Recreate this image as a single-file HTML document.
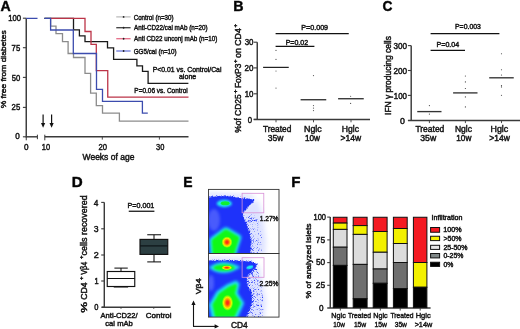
<!DOCTYPE html><html><head><meta charset="utf-8"><style>html,body{margin:0;padding:0;background:#fff;overflow:hidden}svg{display:block;filter:blur(0.35px)} text{font-family:"Liberation Sans", sans-serif;stroke:#151515;stroke-width:0.45px}</style></head><body>
<svg width="520" height="329" viewBox="0 0 520 329">
<rect width="520" height="329" fill="#fff"/>
<text x="0.55" y="10.60" font-size="14.4" font-weight="bold" fill="#000" stroke-width="0.3" textLength="10.22" lengthAdjust="spacingAndGlyphs">A</text>
<text x="233.14" y="10.60" font-size="14.4" font-weight="bold" fill="#000" stroke-width="0.3" textLength="10.30" lengthAdjust="spacingAndGlyphs">B</text>
<text x="382.44" y="10.60" font-size="14.4" font-weight="bold" fill="#000" stroke-width="0.3" textLength="9.94" lengthAdjust="spacingAndGlyphs">C</text>
<text x="71.68" y="186.80" font-size="14.4" font-weight="bold" fill="#000" stroke-width="0.3" textLength="10.96" lengthAdjust="spacingAndGlyphs">D</text>
<text x="183.27" y="186.90" font-size="14.4" font-weight="bold" fill="#000" stroke-width="0.3" textLength="9.27" lengthAdjust="spacingAndGlyphs">E</text>
<text x="291.20" y="186.90" font-size="14.4" font-weight="bold" fill="#000" stroke-width="0.3" textLength="9.16" lengthAdjust="spacingAndGlyphs">F</text>
<line x1="26.25" y1="18.20" x2="26.25" y2="137.50" stroke="#3a3a3a" stroke-width="1.45"/>
<line x1="22.90" y1="18.20" x2="26.25" y2="18.20" stroke="#3a3a3a" stroke-width="1.1"/>
<line x1="22.90" y1="47.70" x2="26.25" y2="47.70" stroke="#3a3a3a" stroke-width="1.1"/>
<line x1="22.90" y1="77.40" x2="26.25" y2="77.40" stroke="#3a3a3a" stroke-width="1.1"/>
<line x1="22.90" y1="107.40" x2="26.25" y2="107.40" stroke="#3a3a3a" stroke-width="1.1"/>
<line x1="22.90" y1="136.80" x2="26.25" y2="136.80" stroke="#3a3a3a" stroke-width="1.1"/>
<text x="8.32" y="20.80" font-size="8.3" font-weight="normal" fill="#151515" textLength="12.84" lengthAdjust="spacingAndGlyphs">100</text>
<text x="11.61" y="50.90" font-size="8.3" font-weight="normal" fill="#151515" textLength="8.57" lengthAdjust="spacingAndGlyphs">75</text>
<text x="11.70" y="80.60" font-size="8.3" font-weight="normal" fill="#151515" textLength="8.45" lengthAdjust="spacingAndGlyphs">50</text>
<text x="11.62" y="109.80" font-size="8.3" font-weight="normal" fill="#151515" textLength="8.56" lengthAdjust="spacingAndGlyphs">25</text>
<text x="15.28" y="139.40" font-size="8.3" font-weight="normal" fill="#151515" textLength="4.54" lengthAdjust="spacingAndGlyphs">0</text>
<line x1="26.25" y1="136.80" x2="37.40" y2="136.80" stroke="#3a3a3a" stroke-width="1.45"/>
<line x1="37.40" y1="134.70" x2="37.40" y2="139.20" stroke="#3a3a3a" stroke-width="1.0"/>
<line x1="44.80" y1="136.80" x2="188.50" y2="136.80" stroke="#3a3a3a" stroke-width="1.45"/>
<line x1="44.80" y1="134.70" x2="44.80" y2="140.30" stroke="#3a3a3a" stroke-width="1.0"/>
<line x1="26.25" y1="136.80" x2="26.25" y2="140.30" stroke="#3a3a3a" stroke-width="1.0"/>
<line x1="102.30" y1="136.80" x2="102.30" y2="139.60" stroke="#3a3a3a" stroke-width="0.9"/>
<line x1="159.40" y1="136.80" x2="159.40" y2="139.60" stroke="#3a3a3a" stroke-width="0.9"/>
<text x="23.98" y="149.90" font-size="8.3" font-weight="normal" fill="#151515" textLength="4.54" lengthAdjust="spacingAndGlyphs">0</text>
<text x="41.84" y="149.90" font-size="8.3" font-weight="normal" fill="#151515" textLength="8.26" lengthAdjust="spacingAndGlyphs">10</text>
<text x="98.42" y="149.90" font-size="8.3" font-weight="normal" fill="#151515" textLength="8.48" lengthAdjust="spacingAndGlyphs">20</text>
<text x="156.02" y="149.90" font-size="8.3" font-weight="normal" fill="#151515" textLength="8.28" lengthAdjust="spacingAndGlyphs">30</text>
<text x="82.56" y="160.20" font-size="8.4" font-weight="normal" fill="#151515" textLength="51.82" lengthAdjust="spacingAndGlyphs">Weeks of age</text>
<text transform="translate(6.30,108.30) rotate(-90)" x="0" y="0" font-size="8.0" font-weight="normal" fill="#151515" stroke-width="0.22" textLength="77.90" lengthAdjust="spacingAndGlyphs">% free from diabetes</text>
<line x1="43.10" y1="114.40" x2="43.10" y2="124.00" stroke="#111" stroke-width="1.2"/>
<path d="M41.00,123.0 L45.20,123.0 L43.10,127.7 Z" fill="#111"/>
<line x1="51.60" y1="114.40" x2="51.60" y2="124.00" stroke="#111" stroke-width="1.2"/>
<path d="M49.50,123.0 L53.70,123.0 L51.60,127.7 Z" fill="#111"/>
<path d="M44.4,18.4 H50.6 V26.2 H56 V33.7 H62.5 V41.7 H68.1 V53.5 H73.5 V57.5 H85 V73.3 H90.6 V93.1 H96.3 V105.6 H102.5 V113.1 H119.4 V121.2 H188.5" stroke="#8c8c8c" stroke-width="1.3" fill="none"/>
<path d="M44.4,18.4 H73.5 V29.9 H79.4 V35.9 H85 V41.6 H107.5 V47.9 H113.6 V59.4 H136.9 V65.9 H142.5 V71.3 H148.1 V83.3 H188.4" stroke="#1a1a1a" stroke-width="1.3" fill="none"/>
<path d="M50.6,18.4 H85 V31.5 H91.0 V44.3 H96.3 V70.6 H107.75 V97.1 H188.5" stroke="#bc3448" stroke-width="1.3" fill="none"/>
<path d="M26.25,18.4 H37.5 M44.4,18.4 H50.6 V30.0 H73.3 V53.5 H96.5 V89.4 H102.5 V101.3 H142.4 V113.1 H147.8" stroke="#3c4cae" stroke-width="1.3" fill="none"/>
<line x1="116.25" y1="16.90" x2="130.60" y2="16.90" stroke="#b0b0b0" stroke-width="1.1"/>
<circle cx="123.60" cy="16.90" r="0.9" fill="#222"/>
<line x1="116.25" y1="27.75" x2="130.60" y2="27.75" stroke="#1a1a1a" stroke-width="1.1"/>
<circle cx="123.60" cy="27.75" r="0.9" fill="#222"/>
<line x1="116.25" y1="38.75" x2="130.60" y2="38.75" stroke="#e05070" stroke-width="1.1"/>
<circle cx="123.60" cy="38.75" r="0.9" fill="#222"/>
<line x1="116.25" y1="51.00" x2="130.60" y2="51.00" stroke="#5060d0" stroke-width="1.1"/>
<circle cx="123.60" cy="51.00" r="0.9" fill="#222"/>
<text x="133.68" y="19.50" font-size="7.4" font-weight="normal" fill="#151515" textLength="39.80" lengthAdjust="spacingAndGlyphs">Control (n=30)</text>
<text x="133.99" y="30.30" font-size="7.4" font-weight="normal" fill="#151515" textLength="73.65" lengthAdjust="spacingAndGlyphs">Anti-CD22/cal mAb (n=20)</text>
<text x="133.99" y="41.30" font-size="7.4" font-weight="normal" fill="#151515" textLength="83.30" lengthAdjust="spacingAndGlyphs">Anti CD22 unconj mAb (n=10)</text>
<text x="133.69" y="53.50" font-size="7.4" font-weight="normal" fill="#151515" textLength="42.95" lengthAdjust="spacingAndGlyphs">GG5/cal (n=10)</text>
<text x="152.74" y="71.90" font-size="7.4" font-weight="normal" fill="#151515" textLength="68.72" lengthAdjust="spacingAndGlyphs">P&lt;0.01 vs. Control/Cal</text>
<text x="178.90" y="79.00" font-size="7.4" font-weight="normal" fill="#151515" textLength="17.41" lengthAdjust="spacingAndGlyphs">alone</text>
<text x="134.37" y="92.80" font-size="7.4" font-weight="normal" fill="#151515" textLength="53.37" lengthAdjust="spacingAndGlyphs">P=0.06 vs. Control</text>
<line x1="257.25" y1="42.20" x2="257.25" y2="119.40" stroke="#3a3a3a" stroke-width="1.45"/>
<line x1="253.70" y1="42.20" x2="257.25" y2="42.20" stroke="#3a3a3a" stroke-width="1.1"/>
<line x1="253.70" y1="67.90" x2="257.25" y2="67.90" stroke="#3a3a3a" stroke-width="1.1"/>
<line x1="253.70" y1="93.80" x2="257.25" y2="93.80" stroke="#3a3a3a" stroke-width="1.1"/>
<line x1="253.70" y1="119.40" x2="257.25" y2="119.40" stroke="#3a3a3a" stroke-width="1.1"/>
<text x="244.70" y="45.00" font-size="8.3" font-weight="normal" fill="#151515" textLength="8.81" lengthAdjust="spacingAndGlyphs">30</text>
<text x="244.60" y="70.70" font-size="8.3" font-weight="normal" fill="#151515" textLength="8.92" lengthAdjust="spacingAndGlyphs">20</text>
<text x="244.70" y="96.60" font-size="8.3" font-weight="normal" fill="#151515" textLength="8.81" lengthAdjust="spacingAndGlyphs">10</text>
<text x="247.80" y="122.50" font-size="8.3" font-weight="normal" fill="#151515" textLength="4.30" lengthAdjust="spacingAndGlyphs">0</text>
<line x1="253.70" y1="119.40" x2="370.00" y2="119.40" stroke="#3a3a3a" stroke-width="1.45"/>
<line x1="276.00" y1="119.40" x2="276.00" y2="122.30" stroke="#3a3a3a" stroke-width="0.9"/>
<line x1="313.50" y1="119.40" x2="313.50" y2="122.30" stroke="#3a3a3a" stroke-width="0.9"/>
<line x1="351.00" y1="119.40" x2="351.00" y2="122.30" stroke="#3a3a3a" stroke-width="0.9"/>
<text x="262.92" y="131.70" font-size="8.5" font-weight="normal" fill="#151515" textLength="28.42" lengthAdjust="spacingAndGlyphs">Treated</text>
<text x="267.68" y="141.30" font-size="8.5" font-weight="normal" fill="#151515" textLength="15.61" lengthAdjust="spacingAndGlyphs">35w</text>
<text x="304.08" y="131.70" font-size="8.5" font-weight="normal" fill="#151515" textLength="17.65" lengthAdjust="spacingAndGlyphs">Nglc</text>
<text x="304.98" y="141.30" font-size="8.5" font-weight="normal" fill="#151515" textLength="15.01" lengthAdjust="spacingAndGlyphs">10w</text>
<text x="341.80" y="131.70" font-size="8.5" font-weight="normal" fill="#151515" textLength="17.12" lengthAdjust="spacingAndGlyphs">Hglc</text>
<text x="340.58" y="141.30" font-size="8.5" font-weight="normal" fill="#151515" textLength="20.60" lengthAdjust="spacingAndGlyphs">&gt;14w</text>
<line x1="263.10" y1="67.40" x2="288.75" y2="67.40" stroke="#222" stroke-width="1.25"/>
<line x1="300.60" y1="99.75" x2="326.25" y2="99.75" stroke="#222" stroke-width="1.25"/>
<line x1="338.10" y1="98.75" x2="363.75" y2="98.75" stroke="#222" stroke-width="1.25"/>
<circle cx="276.00" cy="50.40" r="0.6" fill="#555"/>
<circle cx="276.00" cy="59.40" r="0.6" fill="#555"/>
<circle cx="276.00" cy="71.00" r="0.6" fill="#555"/>
<circle cx="276.00" cy="88.10" r="0.6" fill="#555"/>
<circle cx="313.50" cy="75.60" r="0.6" fill="#555"/>
<circle cx="313.50" cy="105.60" r="0.6" fill="#555"/>
<circle cx="313.50" cy="108.10" r="0.6" fill="#555"/>
<circle cx="313.50" cy="110.60" r="0.6" fill="#555"/>
<circle cx="350.60" cy="96.25" r="0.6" fill="#555"/>
<circle cx="350.60" cy="103.40" r="0.6" fill="#555"/>
<line x1="275.60" y1="33.50" x2="348.75" y2="33.50" stroke="#111" stroke-width="1.25"/>
<line x1="275.60" y1="46.25" x2="314.40" y2="46.25" stroke="#111" stroke-width="1.25"/>
<text x="301.32" y="29.90" font-size="7.4" font-weight="normal" fill="#151515" textLength="26.77" lengthAdjust="spacingAndGlyphs">P=0.009</text>
<text x="285.67" y="44.50" font-size="7.4" font-weight="normal" fill="#151515" textLength="22.43" lengthAdjust="spacingAndGlyphs">P=0.02</text>
<text transform="translate(241.10,132.70) rotate(-90)" x="0" y="0" font-size="8.2" font-weight="normal" fill="#151515" stroke-width="0.22" textLength="38.26" lengthAdjust="spacingAndGlyphs">%of CD25</text>
<text transform="translate(236.80,93.54) rotate(-90)" x="0" y="0" font-size="5.4" font-weight="normal" fill="#151515" stroke-width="0.22" textLength="4.09" lengthAdjust="spacingAndGlyphs">+</text>
<text transform="translate(241.10,88.09) rotate(-90)" x="0" y="0" font-size="8.2" font-weight="normal" fill="#151515" stroke-width="0.22" textLength="24.47" lengthAdjust="spacingAndGlyphs">FoxP3</text>
<text transform="translate(236.80,63.10) rotate(-90)" x="0" y="0" font-size="5.4" font-weight="normal" fill="#151515" stroke-width="0.22" textLength="3.60" lengthAdjust="spacingAndGlyphs">+</text>
<text transform="translate(241.10,57.97) rotate(-90)" x="0" y="0" font-size="8.2" font-weight="normal" fill="#151515" stroke-width="0.22" textLength="29.73" lengthAdjust="spacingAndGlyphs">on CD4</text>
<text transform="translate(236.80,27.50) rotate(-90)" x="0" y="0" font-size="5.4" font-weight="normal" fill="#151515" stroke-width="0.22" textLength="3.60" lengthAdjust="spacingAndGlyphs">+</text>
<line x1="411.20" y1="45.60" x2="411.20" y2="120.40" stroke="#3a3a3a" stroke-width="1.45"/>
<line x1="407.90" y1="45.60" x2="411.00" y2="45.60" stroke="#3a3a3a" stroke-width="1.1"/>
<line x1="407.90" y1="70.50" x2="411.00" y2="70.50" stroke="#3a3a3a" stroke-width="1.1"/>
<line x1="407.90" y1="95.40" x2="411.00" y2="95.40" stroke="#3a3a3a" stroke-width="1.1"/>
<text x="393.49" y="48.70" font-size="8.3" font-weight="normal" fill="#151515" textLength="13.53" lengthAdjust="spacingAndGlyphs">300</text>
<text x="393.39" y="73.70" font-size="8.3" font-weight="normal" fill="#151515" textLength="13.63" lengthAdjust="spacingAndGlyphs">200</text>
<text x="393.80" y="98.70" font-size="8.3" font-weight="normal" fill="#151515" textLength="13.21" lengthAdjust="spacingAndGlyphs">100</text>
<text x="399.96" y="124.00" font-size="8.3" font-weight="normal" fill="#151515" textLength="4.89" lengthAdjust="spacingAndGlyphs">0</text>
<line x1="407.90" y1="120.40" x2="520.00" y2="120.40" stroke="#3a3a3a" stroke-width="1.45"/>
<line x1="429.40" y1="120.20" x2="429.40" y2="123.10" stroke="#3a3a3a" stroke-width="0.9"/>
<line x1="465.40" y1="120.20" x2="465.40" y2="123.10" stroke="#3a3a3a" stroke-width="0.9"/>
<line x1="501.50" y1="120.20" x2="501.50" y2="123.10" stroke="#3a3a3a" stroke-width="0.9"/>
<text x="415.41" y="131.70" font-size="8.5" font-weight="normal" fill="#151515" textLength="28.93" lengthAdjust="spacingAndGlyphs">Treated</text>
<text x="420.27" y="141.30" font-size="8.5" font-weight="normal" fill="#151515" textLength="15.92" lengthAdjust="spacingAndGlyphs">35w</text>
<text x="454.90" y="131.70" font-size="8.5" font-weight="normal" fill="#151515" textLength="17.12" lengthAdjust="spacingAndGlyphs">Nglc</text>
<text x="456.27" y="141.30" font-size="8.5" font-weight="normal" fill="#151515" textLength="15.11" lengthAdjust="spacingAndGlyphs">10w</text>
<text x="490.52" y="131.70" font-size="8.5" font-weight="normal" fill="#151515" textLength="17.70" lengthAdjust="spacingAndGlyphs">Hglc</text>
<text x="489.33" y="141.30" font-size="8.5" font-weight="normal" fill="#151515" textLength="20.55" lengthAdjust="spacingAndGlyphs">&gt;14w</text>
<line x1="417.25" y1="111.60" x2="441.50" y2="111.60" stroke="#333" stroke-width="1.35"/>
<line x1="453.10" y1="92.90" x2="477.50" y2="92.90" stroke="#333" stroke-width="1.35"/>
<line x1="489.20" y1="77.80" x2="513.75" y2="77.80" stroke="#333" stroke-width="1.35"/>
<circle cx="429.40" cy="105.60" r="0.6" fill="#444"/>
<circle cx="429.40" cy="114.10" r="0.6" fill="#444"/>
<circle cx="465.40" cy="76.00" r="0.6" fill="#444"/>
<circle cx="465.40" cy="81.90" r="0.6" fill="#444"/>
<circle cx="465.40" cy="88.50" r="0.6" fill="#444"/>
<circle cx="465.40" cy="96.90" r="0.6" fill="#444"/>
<circle cx="465.40" cy="106.90" r="0.6" fill="#444"/>
<circle cx="501.50" cy="53.75" r="0.6" fill="#444"/>
<circle cx="501.50" cy="69.75" r="0.6" fill="#444"/>
<circle cx="501.50" cy="75.00" r="0.6" fill="#444"/>
<circle cx="501.50" cy="85.60" r="0.6" fill="#444"/>
<circle cx="501.50" cy="86.90" r="0.6" fill="#444"/>
<circle cx="501.50" cy="95.25" r="0.6" fill="#444"/>
<line x1="430.60" y1="33.50" x2="499.40" y2="33.50" stroke="#111" stroke-width="1.25"/>
<line x1="430.60" y1="50.40" x2="465.00" y2="50.40" stroke="#111" stroke-width="1.25"/>
<text x="455.03" y="29.00" font-size="7.4" font-weight="normal" fill="#151515" textLength="25.87" lengthAdjust="spacingAndGlyphs">P=0.003</text>
<text x="436.52" y="46.65" font-size="7.4" font-weight="normal" fill="#151515" textLength="22.69" lengthAdjust="spacingAndGlyphs">P=0.04</text>
<text transform="translate(391.00,114.88) rotate(-90)" x="0" y="0" font-size="8.4" font-weight="normal" fill="#151515" stroke-width="0.22" textLength="78.78" lengthAdjust="spacingAndGlyphs">IFN γ producing cells</text>
<line x1="104.30" y1="202.40" x2="104.30" y2="307.30" stroke="#3a3a3a" stroke-width="1.45"/>
<line x1="101.20" y1="202.40" x2="104.30" y2="202.40" stroke="#3a3a3a" stroke-width="1.1"/>
<line x1="101.20" y1="228.80" x2="104.30" y2="228.80" stroke="#3a3a3a" stroke-width="1.1"/>
<line x1="101.20" y1="255.00" x2="104.30" y2="255.00" stroke="#3a3a3a" stroke-width="1.1"/>
<line x1="101.20" y1="281.00" x2="104.30" y2="281.00" stroke="#3a3a3a" stroke-width="1.1"/>
<line x1="101.20" y1="307.20" x2="104.30" y2="307.20" stroke="#3a3a3a" stroke-width="1.1"/>
<text x="93.81" y="205.60" font-size="8.3" font-weight="normal" fill="#151515" textLength="4.63" lengthAdjust="spacingAndGlyphs">4</text>
<text x="93.87" y="232.00" font-size="8.3" font-weight="normal" fill="#151515" textLength="4.81" lengthAdjust="spacingAndGlyphs">3</text>
<text x="93.75" y="258.00" font-size="8.3" font-weight="normal" fill="#151515" textLength="5.00" lengthAdjust="spacingAndGlyphs">2</text>
<text x="94.44" y="283.90" font-size="8.3" font-weight="normal" fill="#151515" textLength="4.13" lengthAdjust="spacingAndGlyphs">1</text>
<text x="94.31" y="310.20" font-size="8.3" font-weight="normal" fill="#151515" textLength="4.19" lengthAdjust="spacingAndGlyphs">0</text>
<line x1="101.90" y1="307.20" x2="170.60" y2="307.20" stroke="#3a3a3a" stroke-width="1.45"/>
<line x1="121.00" y1="307.20" x2="121.00" y2="308.80" stroke="#3a3a3a" stroke-width="0.9"/>
<line x1="153.75" y1="307.20" x2="153.75" y2="308.80" stroke="#3a3a3a" stroke-width="0.9"/>
<rect x="107.25" y="271.5" width="27.5" height="15.0" fill="#fff" stroke="#111" stroke-width="1.15"/>
<line x1="107.25" y1="278.50" x2="134.75" y2="278.50" stroke="#111" stroke-width="1.05"/>
<line x1="121.00" y1="268.10" x2="121.00" y2="271.50" stroke="#111" stroke-width="1.05"/>
<line x1="114.40" y1="268.10" x2="127.75" y2="268.10" stroke="#111" stroke-width="1.05"/>
<line x1="113.75" y1="287.00" x2="128.10" y2="287.00" stroke="#111" stroke-width="1.05"/>
<rect x="140.0" y="239.4" width="27.75" height="15.0" fill="#2c3f42" stroke="#111" stroke-width="1.15"/>
<line x1="140.00" y1="245.90" x2="167.75" y2="245.90" stroke="#0c1416" stroke-width="1.2"/>
<line x1="154.00" y1="234.75" x2="154.00" y2="239.40" stroke="#111" stroke-width="1.05"/>
<line x1="147.25" y1="234.75" x2="161.00" y2="234.75" stroke="#111" stroke-width="1.05"/>
<line x1="154.00" y1="254.40" x2="154.00" y2="261.90" stroke="#111" stroke-width="1.05"/>
<line x1="147.25" y1="261.90" x2="161.00" y2="261.90" stroke="#111" stroke-width="1.05"/>
<text x="127.51" y="207.75" font-size="7.4" font-weight="normal" fill="#151515" textLength="26.84" lengthAdjust="spacingAndGlyphs">P=0.001</text>
<line x1="128.75" y1="211.25" x2="154.40" y2="211.25" stroke="#111" stroke-width="1.25"/>
<text x="100.58" y="318.00" font-size="7.6" font-weight="normal" fill="#151515" textLength="36.91" lengthAdjust="spacingAndGlyphs">Anti-CD22/</text>
<text x="105.28" y="325.50" font-size="7.6" font-weight="normal" fill="#151515" textLength="27.54" lengthAdjust="spacingAndGlyphs">cal mAb</text>
<text x="145.84" y="318.40" font-size="7.6" font-weight="normal" fill="#151515" textLength="25.70" lengthAdjust="spacingAndGlyphs">Control</text>
<text transform="translate(86.90,312.84) rotate(-90)" x="0" y="0" font-size="8.2" font-weight="normal" fill="#151515" stroke-width="0.22" textLength="10.87" lengthAdjust="spacingAndGlyphs">%</text>
<text transform="translate(86.90,299.85) rotate(-90)" x="0" y="0" font-size="8.2" font-weight="normal" fill="#151515" stroke-width="0.22" textLength="17.50" lengthAdjust="spacingAndGlyphs">CD4</text>
<text transform="translate(82.80,279.90) rotate(-90)" x="0" y="0" font-size="5.4" font-weight="normal" fill="#151515" stroke-width="0.22" textLength="3.60" lengthAdjust="spacingAndGlyphs">+</text>
<text transform="translate(86.90,274.74) rotate(-90)" x="0" y="0" font-size="8.2" font-weight="normal" fill="#151515" stroke-width="0.22" textLength="13.05" lengthAdjust="spacingAndGlyphs">Vβ4</text>
<text transform="translate(82.80,259.00) rotate(-90)" x="0" y="0" font-size="5.4" font-weight="normal" fill="#151515" stroke-width="0.22" textLength="3.60" lengthAdjust="spacingAndGlyphs">+</text>
<text transform="translate(86.90,255.38) rotate(-90)" x="0" y="0" font-size="8.2" font-weight="normal" fill="#151515" stroke-width="0.22" textLength="60.05" lengthAdjust="spacingAndGlyphs">cells recovered</text>
<defs>
<clipPath id="c1"><rect x="208.5" y="189.4" width="70.5" height="64.1"/></clipPath>
<clipPath id="c2"><rect x="208.5" y="253.5" width="70.5" height="63.6"/></clipPath>
<filter id="b05" color-interpolation-filters="sRGB" x="-30%" y="-30%" width="160%" height="160%"><feGaussianBlur stdDeviation="0.5"/></filter>
<filter id="b1" color-interpolation-filters="sRGB" x="-30%" y="-30%" width="160%" height="160%"><feGaussianBlur stdDeviation="0.9"/></filter>
<filter id="b2" color-interpolation-filters="sRGB" x="-30%" y="-30%" width="160%" height="160%"><feGaussianBlur stdDeviation="1.5"/></filter>
<filter id="b3" color-interpolation-filters="sRGB" x="-30%" y="-30%" width="160%" height="160%"><feGaussianBlur stdDeviation="2.6"/></filter>
<filter id="spk1" color-interpolation-filters="sRGB" filterUnits="userSpaceOnUse" x="200" y="185" width="85" height="80">
  <feGaussianBlur in="SourceAlpha" stdDeviation="1.4" result="sa"/>
  <feTurbulence type="fractalNoise" baseFrequency="1.25" numOctaves="2" seed="7" result="n0"/>
  <feColorMatrix in="n0" type="matrix" values="0 0 0 0 0  0 0 0 0 0  0 0 0 0 0  1 0 0 0 0" result="n"/>
  <feComposite in="n" in2="sa" operator="arithmetic" k1="0" k2="3.2" k3="3.2" k4="-3.75" result="m"/>
  <feComponentTransfer in="sa" result="core"><feFuncA type="linear" slope="7" intercept="-5.6"/></feComponentTransfer>
  <feMerge result="mm"><feMergeNode in="core"/><feMergeNode in="m"/></feMerge>
  <feColorMatrix in="mm" type="matrix" values="0 0 0 0 0.118  0 0 0 0 0.196  0 0 0 0 0.98  0 0 0 1 0"/>
</filter>
<filter id="spk2" color-interpolation-filters="sRGB" filterUnits="userSpaceOnUse" x="200" y="250" width="85" height="80">
  <feGaussianBlur in="SourceAlpha" stdDeviation="1.4" result="sa"/>
  <feTurbulence type="fractalNoise" baseFrequency="1.25" numOctaves="2" seed="11" result="n0"/>
  <feColorMatrix in="n0" type="matrix" values="0 0 0 0 0  0 0 0 0 0  0 0 0 0 0  1 0 0 0 0" result="n"/>
  <feComposite in="n" in2="sa" operator="arithmetic" k1="0" k2="3.2" k3="3.2" k4="-3.75" result="m"/>
  <feComponentTransfer in="sa" result="core"><feFuncA type="linear" slope="7" intercept="-5.6"/></feComponentTransfer>
  <feMerge result="mm"><feMergeNode in="core"/><feMergeNode in="m"/></feMerge>
  <feColorMatrix in="mm" type="matrix" values="0 0 0 0 0.118  0 0 0 0 0.196  0 0 0 0 0.98  0 0 0 1 0"/>
</filter>
<filter id="wspk" color-interpolation-filters="sRGB" filterUnits="userSpaceOnUse" x="208" y="189" width="72" height="130">
  <feGaussianBlur in="SourceAlpha" stdDeviation="1.6" result="sa"/>
  <feTurbulence type="fractalNoise" baseFrequency="0.9" numOctaves="2" seed="3" result="n0"/>
  <feColorMatrix in="n0" type="matrix" values="0 0 0 0 0  0 0 0 0 0  0 0 0 0 0  1 0 0 0 0" result="n"/>
  <feComposite in="n" in2="sa" operator="arithmetic" k1="0" k2="6" k3="6" k4="-8.0" result="m"/>
  <feColorMatrix in="m" type="matrix" values="0 0 0 0 0.55  0 0 0 0 0.62  0 0 0 0 1  0 0 0 0.5 0"/>
</filter>
<radialGradient id="hot1" cx="0.5" cy="0.5" r="0.5">
  <stop offset="0" stop-color="#ff2418"/><stop offset="0.22" stop-color="#ff3a14"/>
  <stop offset="0.45" stop-color="#ff9a00"/><stop offset="0.68" stop-color="#eef400"/>
  <stop offset="0.86" stop-color="#a8ff00" stop-opacity="0.6"/>
  <stop offset="1" stop-color="#60ff00" stop-opacity="0"/>
</radialGradient>
<radialGradient id="grn" cx="0.5" cy="0.5" r="0.5">
  <stop offset="0" stop-color="#10f818"/><stop offset="0.55" stop-color="#10f020"/>
  <stop offset="0.8" stop-color="#20f0e0"/><stop offset="1" stop-color="#20e0f0" stop-opacity="0"/>
</radialGradient>
</defs>
<g clip-path="url(#c1)">
<rect x="208.5" y="189.4" width="70.5" height="64.1" fill="#fff"/>
<path d="M240,204 L258,200 L263,215 L266,240 L265,256 L244,256 Z" fill="#c4ccff" opacity="0.55" filter="url(#b3)"/>
<path d="M208.5,191.5 L250,193.5 L256,197 L250,199 L208.5,199 Z" fill="#c4ccff" opacity="0.4" filter="url(#b2)"/>
<g filter="url(#spk1)">
<path d="M205,196.3 L208.5,196.3 C215,195.8 220,194.8 226,194.8 C232,194.8 236,196.3 242,197.6 L250,198 L256,198.4 L259.2,199.3 L256,201.5 L251,205.5 L246,210 L243.5,213.5 L246.5,222 L249.5,232 L251.5,240 L250.5,258 L205,258 Z" fill="#000"/>
<path d="M246.5,217 L252,214 L259,219 L264,232 L265,258 L248,258 Z" fill="#000" fill-opacity="0.6"/>
<path d="M243,212 L250,207 L257,210 L259,220 L250,224 Z" fill="#000" fill-opacity="0.45"/>
<path d="M208.5,193.5 L250,195.5 L258,196 L250,198 L208.5,198 Z" fill="#000" fill-opacity="0.45"/>
</g>
<ellipse cx="214" cy="220" rx="6" ry="11" fill="#8a9aff" opacity="0.4" filter="url(#b2)"/>
<ellipse cx="224.3" cy="203.5" rx="7.6" ry="3.7" fill="#20e8f0" filter="url(#b1)"/>
<ellipse cx="225.2" cy="203.3" rx="4.4" ry="2.0" fill="#10f030" filter="url(#b05)"/>
<path d="M224,227.8 Q226,226.8 228,227.8 L240.5,235.2 Q242,236.5 241.2,238.5 L236,255 L210.5,255 L209.3,241 Q209.2,239 210.6,237.8 Z" fill="#20e8f0" filter="url(#b2)"/>
<path d="M224.5,230 Q226,229.2 227.5,230 L238.3,236.5 Q239.5,237.5 239,239 L234,255 L212.8,255 L211.8,241.5 Q211.7,240 212.8,239 Z" fill="#10f818" filter="url(#b1)"/>
<ellipse cx="227" cy="242.2" rx="5.6" ry="5.9" fill="url(#hot1)"/>
</g>
<g clip-path="url(#c2)">
<rect x="208.5" y="253.5" width="70.5" height="63.6" fill="#fff"/>
<path d="M242,270 L259,265 L263,285 L266,300 L264,320 L244,320 Z" fill="#c4ccff" opacity="0.55" filter="url(#b3)"/>
<path d="M208.5,256 L245,257 L256,261 L245,263 L208.5,263 Z" fill="#c4ccff" opacity="0.4" filter="url(#b2)"/>
<g filter="url(#spk2)">
<path d="M205,260 L208.5,260 C218,259.3 232,259.3 242,260.4 L252,260.6 L259.5,263.6 L254,270 L247,276.5 L247.3,284 L252.4,295 L251.4,305 L245,321 L205,321 Z" fill="#000"/>
<path d="M246,272 L259,266 L263,285 L266,300 L263,321 L246,321 Z" fill="#000" fill-opacity="0.65"/>
<path d="M208.5,257 L245,258 L255,260 L245,262 L208.5,262 Z" fill="#000" fill-opacity="0.45"/>
</g>
<ellipse cx="211" cy="283" rx="3" ry="8" fill="#7a8cff" opacity="0.5" filter="url(#b2)"/>
<ellipse cx="249.8" cy="267.3" rx="3.4" ry="1.7" fill="#20e8f0" transform="rotate(-15 249.8 267.3)" filter="url(#b05)"/>
<path d="M208.8,267.6 C214,263 221,262.2 225,262.3 C230,262.5 235,264.3 240.5,267.2 C234,271.2 228,273 223,273 C217,273 212.5,270.8 208.8,267.6 Z" fill="#20e8f0" filter="url(#b2)"/>
<ellipse cx="224.2" cy="267.7" rx="10.8" ry="3.2" fill="#10f818" filter="url(#b1)"/>
<ellipse cx="226.8" cy="267.7" rx="5.6" ry="2.4" fill="url(#hot1)"/>
<path d="M236.2,280.6 L239.6,283.6 L237.6,293 L244.2,303.1 L237,319 L212,319 L209,304.7 L216.6,291.6 L227.2,284.2 Z" fill="#20e8f0" filter="url(#b2)"/>
<path d="M235.8,283.8 L237,285.3 L235,293.6 L241,303 L234.5,317.1 L215,317.1 L212.4,304.6 L219,293.6 L228.6,286.8 Z" fill="#10f818" filter="url(#b1)"/>
<ellipse cx="227.5" cy="302.8" rx="5.8" ry="8.2" fill="url(#hot1)"/>
</g>
<rect x="208.5" y="189.4" width="70.5" height="64.1" fill="none" stroke="#333" stroke-width="0.9"/>
<rect x="208.5" y="253.5" width="70.5" height="63.6" fill="none" stroke="#333" stroke-width="0.9"/>
<rect x="242.1" y="193.3" width="21.7" height="19.5" fill="none" stroke="#d890d8" stroke-width="0.8"/>
<rect x="242.1" y="257.7" width="21.9" height="19.6" fill="none" stroke="#d890d8" stroke-width="0.8"/>
<text x="259.70" y="220.80" font-size="7.8" font-weight="normal" fill="#151515" stroke-width="0.4" textLength="18.84" lengthAdjust="spacingAndGlyphs">1.27%</text>
<text x="259.47" y="286.00" font-size="7.8" font-weight="normal" fill="#151515" stroke-width="0.4" textLength="18.97" lengthAdjust="spacingAndGlyphs">2.25%</text>
<text x="230.97" y="328.10" font-size="8.8" font-weight="normal" fill="#151515" textLength="16.78" lengthAdjust="spacingAndGlyphs">CD4</text>
<text transform="translate(200.50,294.24) rotate(-90)" x="0" y="0" font-size="7.8" font-weight="normal" fill="#151515" stroke-width="0.22" textLength="15.80" lengthAdjust="spacingAndGlyphs">Vβ4</text>
<line x1="193.5" y1="326.4" x2="193.5" y2="304" stroke="#111" stroke-width="1.1"/>
<path d="M191.4,305 L195.6,305 L193.5,300.6 Z" fill="#111"/>
<line x1="193" y1="326.4" x2="215.5" y2="326.4" stroke="#111" stroke-width="1.1"/>
<path d="M214.6,324.3 L214.6,328.5 L219,326.4 Z" fill="#111"/>

<line x1="330.25" y1="217.10" x2="330.25" y2="308.00" stroke="#3a3a3a" stroke-width="1.45"/>
<line x1="327.20" y1="217.10" x2="330.25" y2="217.10" stroke="#3a3a3a" stroke-width="1.1"/>
<line x1="327.20" y1="239.90" x2="330.25" y2="239.90" stroke="#3a3a3a" stroke-width="1.1"/>
<line x1="327.20" y1="262.60" x2="330.25" y2="262.60" stroke="#3a3a3a" stroke-width="1.1"/>
<line x1="327.20" y1="285.30" x2="330.25" y2="285.30" stroke="#3a3a3a" stroke-width="1.1"/>
<text x="313.53" y="219.70" font-size="8.3" font-weight="normal" fill="#151515" textLength="12.46" lengthAdjust="spacingAndGlyphs">100</text>
<text x="315.87" y="242.60" font-size="8.3" font-weight="normal" fill="#151515" textLength="9.28" lengthAdjust="spacingAndGlyphs">75</text>
<text x="315.97" y="265.40" font-size="8.3" font-weight="normal" fill="#151515" textLength="9.15" lengthAdjust="spacingAndGlyphs">50</text>
<text x="315.88" y="288.10" font-size="8.3" font-weight="normal" fill="#151515" textLength="9.27" lengthAdjust="spacingAndGlyphs">25</text>
<text x="318.98" y="310.60" font-size="8.3" font-weight="normal" fill="#151515" textLength="4.54" lengthAdjust="spacingAndGlyphs">0</text>
<line x1="327.25" y1="308.00" x2="430.60" y2="308.00" stroke="#3a3a3a" stroke-width="1.45"/>
<rect x="333.30" y="217.25" width="13.70" height="5.85" fill="#f41a22" stroke="#111" stroke-width="1.0"/>
<rect x="333.30" y="223.10" width="13.70" height="6.30" fill="#f3f000" stroke="#111" stroke-width="1.0"/>
<rect x="333.30" y="229.40" width="13.70" height="17.80" fill="#dcdcdc" stroke="#111" stroke-width="1.0"/>
<rect x="333.30" y="247.20" width="13.70" height="18.20" fill="#6f6f6f" stroke="#111" stroke-width="1.0"/>
<rect x="333.30" y="265.40" width="13.70" height="42.20" fill="#000" stroke="#111" stroke-width="1.0"/>
<rect x="353.20" y="217.25" width="13.90" height="8.35" fill="#f41a22" stroke="#111" stroke-width="1.0"/>
<rect x="353.20" y="225.60" width="13.90" height="8.80" fill="#f3f000" stroke="#111" stroke-width="1.0"/>
<rect x="353.20" y="234.40" width="13.90" height="30.00" fill="#dcdcdc" stroke="#111" stroke-width="1.0"/>
<rect x="353.20" y="264.40" width="13.90" height="34.35" fill="#6f6f6f" stroke="#111" stroke-width="1.0"/>
<rect x="353.20" y="298.75" width="13.90" height="8.85" fill="#000" stroke="#111" stroke-width="1.0"/>
<rect x="373.20" y="217.25" width="13.90" height="14.25" fill="#f41a22" stroke="#111" stroke-width="1.0"/>
<rect x="373.20" y="231.50" width="13.90" height="20.75" fill="#f3f000" stroke="#111" stroke-width="1.0"/>
<rect x="373.20" y="252.25" width="13.90" height="16.75" fill="#dcdcdc" stroke="#111" stroke-width="1.0"/>
<rect x="373.20" y="269.00" width="13.90" height="14.30" fill="#6f6f6f" stroke="#111" stroke-width="1.0"/>
<rect x="373.20" y="283.30" width="13.90" height="24.30" fill="#000" stroke="#111" stroke-width="1.0"/>
<rect x="393.40" y="217.25" width="13.80" height="11.25" fill="#f41a22" stroke="#111" stroke-width="1.0"/>
<rect x="393.40" y="228.50" width="13.80" height="15.00" fill="#f3f000" stroke="#111" stroke-width="1.0"/>
<rect x="393.40" y="243.50" width="13.80" height="19.00" fill="#dcdcdc" stroke="#111" stroke-width="1.0"/>
<rect x="393.40" y="262.50" width="13.80" height="26.00" fill="#6f6f6f" stroke="#111" stroke-width="1.0"/>
<rect x="393.40" y="288.50" width="13.80" height="19.10" fill="#000" stroke="#111" stroke-width="1.0"/>
<rect x="413.40" y="217.25" width="13.50" height="45.25" fill="#f41a22" stroke="#111" stroke-width="1.0"/>
<rect x="413.40" y="262.50" width="13.50" height="24.75" fill="#f3f000" stroke="#111" stroke-width="1.0"/>
<rect x="413.40" y="287.25" width="13.50" height="20.35" fill="#000" stroke="#111" stroke-width="1.0"/>
<line x1="340.30" y1="308.00" x2="340.30" y2="310.60" stroke="#3a3a3a" stroke-width="0.9"/>
<line x1="360.30" y1="308.00" x2="360.30" y2="310.60" stroke="#3a3a3a" stroke-width="0.9"/>
<line x1="380.30" y1="308.00" x2="380.30" y2="310.60" stroke="#3a3a3a" stroke-width="0.9"/>
<line x1="400.20" y1="308.00" x2="400.20" y2="310.60" stroke="#3a3a3a" stroke-width="0.9"/>
<line x1="420.20" y1="308.00" x2="420.20" y2="310.60" stroke="#3a3a3a" stroke-width="0.9"/>
<text x="331.31" y="318.40" font-size="8.0" font-weight="normal" fill="#151515" stroke-width="0.3" textLength="14.48" lengthAdjust="spacingAndGlyphs">Nglc</text>
<text x="333.26" y="326.50" font-size="8.0" font-weight="normal" fill="#151515" stroke-width="0.3" textLength="11.73" lengthAdjust="spacingAndGlyphs">10w</text>
<text x="347.95" y="318.40" font-size="8.0" font-weight="normal" fill="#151515" stroke-width="0.3" textLength="23.08" lengthAdjust="spacingAndGlyphs">Treated</text>
<text x="353.89" y="326.50" font-size="8.0" font-weight="normal" fill="#151515" stroke-width="0.3" textLength="12.35" lengthAdjust="spacingAndGlyphs">15w</text>
<text x="373.15" y="318.40" font-size="8.0" font-weight="normal" fill="#151515" stroke-width="0.3" textLength="14.53" lengthAdjust="spacingAndGlyphs">Nglc</text>
<text x="374.49" y="326.50" font-size="8.0" font-weight="normal" fill="#151515" stroke-width="0.3" textLength="12.40" lengthAdjust="spacingAndGlyphs">15w</text>
<text x="390.45" y="318.40" font-size="8.0" font-weight="normal" fill="#151515" stroke-width="0.3" textLength="23.08" lengthAdjust="spacingAndGlyphs">Treated</text>
<text x="394.75" y="326.50" font-size="8.0" font-weight="normal" fill="#151515" stroke-width="0.3" textLength="12.14" lengthAdjust="spacingAndGlyphs">35w</text>
<text x="415.63" y="318.40" font-size="8.0" font-weight="normal" fill="#151515" stroke-width="0.3" textLength="15.16" lengthAdjust="spacingAndGlyphs">Hglc</text>
<text x="414.64" y="326.50" font-size="8.0" font-weight="normal" fill="#151515" stroke-width="0.3" textLength="17.60" lengthAdjust="spacingAndGlyphs">&gt;14w</text>
<text transform="translate(310.60,298.41) rotate(-90)" x="0" y="0" font-size="8.0" font-weight="normal" fill="#151515" stroke-width="0.22" textLength="75.01" lengthAdjust="spacingAndGlyphs">% of analyzed islets</text>
<text x="431.60" y="219.75" font-size="7.0" font-weight="normal" fill="#151515" stroke-width="0.22" textLength="30.77" lengthAdjust="spacingAndGlyphs">Infiltration</text>
<rect x="430.6" y="227.50" width="9.0" height="4.75" fill="#f41a22" stroke="#111" stroke-width="1.0"/>
<text x="443.21" y="232.38" font-size="7.0" font-weight="normal" fill="#151515" stroke-width="0.22" textLength="18.30" lengthAdjust="spacingAndGlyphs">100%</text>
<rect x="430.6" y="236.25" width="9.0" height="4.35" fill="#f3f000" stroke="#111" stroke-width="1.0"/>
<text x="443.41" y="240.93" font-size="7.0" font-weight="normal" fill="#151515" stroke-width="0.22" textLength="18.09" lengthAdjust="spacingAndGlyphs">&gt;50%</text>
<rect x="430.6" y="245.30" width="9.0" height="4.10" fill="#e6e6e6" stroke="#111" stroke-width="1.0"/>
<text x="443.40" y="249.85" font-size="7.0" font-weight="normal" fill="#151515" stroke-width="0.22" textLength="24.09" lengthAdjust="spacingAndGlyphs">25-50%</text>
<rect x="430.6" y="253.50" width="9.0" height="4.40" fill="#7f8787" stroke="#111" stroke-width="1.0"/>
<text x="443.48" y="258.20" font-size="7.0" font-weight="normal" fill="#151515" stroke-width="0.22" textLength="19.86" lengthAdjust="spacingAndGlyphs">0-25%</text>
<rect x="430.6" y="262.25" width="9.0" height="4.15" fill="#000" stroke="#111" stroke-width="1.0"/>
<text x="443.48" y="266.82" font-size="7.0" font-weight="normal" fill="#151515" stroke-width="0.22" textLength="9.86" lengthAdjust="spacingAndGlyphs">0%</text>
</svg></body></html>
